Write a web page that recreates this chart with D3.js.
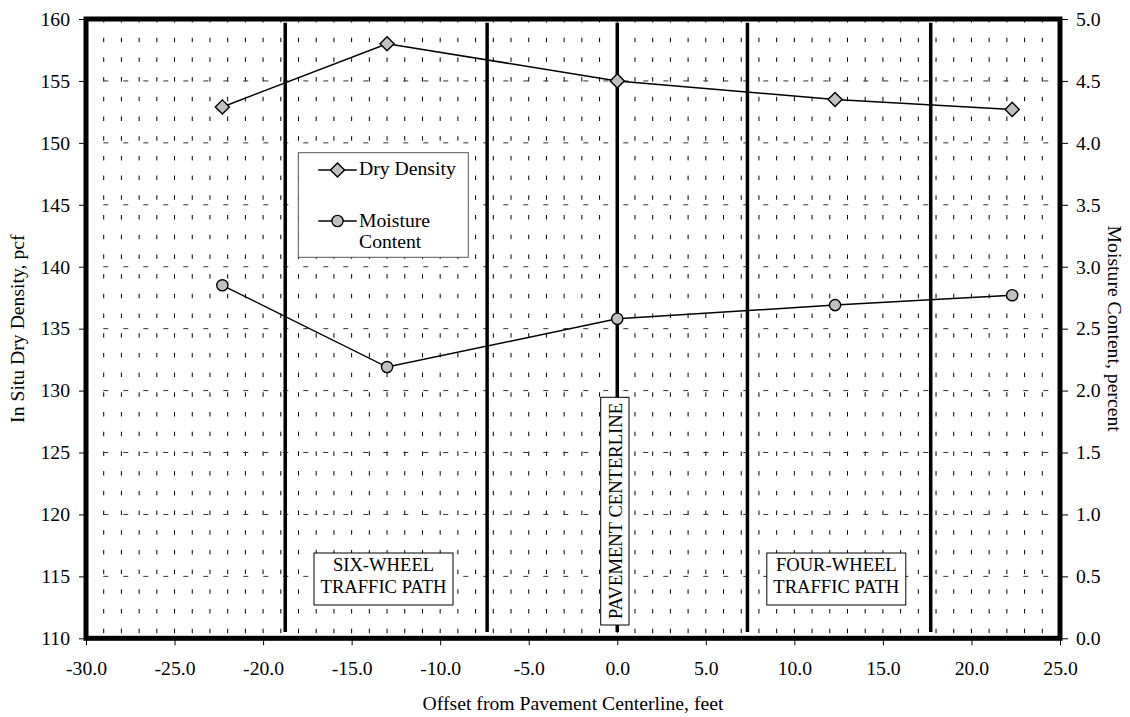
<!DOCTYPE html>
<html><head><meta charset="utf-8">
<script src="https://cdn.jsdelivr.net/npm/d3@7"></script>
<style>
html,body{margin:0;padding:0;background:#fff;}
svg{display:block;font-family:"Liberation Serif","Times New Roman",serif;}
</style></head>
<body>
<svg id="chart" width="1130" height="717"></svg>
<script>
// ---- data ----
const offsets = [-22.3, -13.0, 0.0, 12.3, 22.3];
const dryDensity = [152.9, 158.0, 155.0, 153.5, 152.7];
const moisture = [2.85, 2.19, 2.58, 2.69, 2.77];
const xTicks = [-30, -25, -20, -15, -10, -5, 0, 5, 10, 15, 20, 25];
const yLeftTicks = [110, 115, 120, 125, 130, 135, 140, 145, 150, 155, 160];
const yRightTicks = [0, 0.5, 1, 1.5, 2, 2.5, 3, 3.5, 4, 4.5, 5];
const pathBoundaries = [-18.75, -7.35, 0, 7.35, 17.7];
const boundaryExtent = [110.5, 159.7];
const seriesNames = ["Dry Density", ["Moisture", "Content"]];

// ---- layout ----
const L = 86, R = 1060, T = 19, B = 638.3;
const FS = 19.7, FSA = 18.6;
const svg = d3.select("#chart");
const x = d3.scaleLinear().domain([-30, 25]).range([L, R]);
const yL = d3.scaleLinear().domain([110, 160]).range([B, T]);
const yR = d3.scaleLinear().domain([0, 5]).range([B, T]);
const fmt1 = d => d.toFixed(1);

// ---- grid ----
const grid = svg.append("g");
grid.selectAll("line.v").data(d3.range(-29, 25)).enter().append("line")
  .attr("x1", d => x(d)).attr("x2", d => x(d)).attr("y1", T).attr("y2", B)
  .attr("stroke", "#000").attr("stroke-width", 1)
  .attr("stroke-dasharray", "4.5,15.2").attr("stroke-dashoffset", 1);
grid.selectAll("line.h").data(yLeftTicks.slice(1, -1)).enter().append("line")
  .attr("x1", L).attr("x2", R).attr("y1", d => yL(d)).attr("y2", d => yL(d))
  .attr("stroke", "#333").attr("stroke-width", 1)
  .attr("stroke-dasharray", "5,15").attr("stroke-dashoffset", 2.7);

// ---- thick traffic-path boundary lines ----
svg.append("g").selectAll("line").data(pathBoundaries).enter().append("line")
  .attr("x1", d => x(d)).attr("x2", d => x(d))
  .attr("y1", yL(boundaryExtent[1])).attr("y2", yL(boundaryExtent[0]))
  .attr("stroke", "#000").attr("stroke-width", 3.5);

// ---- annotation boxes ----
function boxText(cx, top, w, h, lines, baselines) {
  const g = svg.append("g");
  g.append("rect").attr("x", cx - w / 2).attr("y", top).attr("width", w).attr("height", h)
    .attr("fill", "#fff").attr("stroke", "#000").attr("stroke-width", 1);
  lines.forEach((t, i) => g.append("text").attr("x", cx).attr("y", baselines[i])
    .attr("text-anchor", "middle").attr("font-size", FSA).text(t));
}
boxText(383.5, 553, 139, 52, ["SIX-WHEEL", "TRAFFIC PATH"], [571, 593]);
boxText(836.3, 553, 139, 52, ["FOUR-WHEEL", "TRAFFIC PATH"], [571, 593]);
// centerline box (vertical)
const cl = svg.append("g");
cl.append("rect").attr("x", 600.7).attr("y", 397.3).attr("width", 28.3).attr("height", 227.7)
  .attr("fill", "#fff").attr("stroke", "#000").attr("stroke-width", 1);
cl.append("text").attr("transform", "translate(621.5,511) rotate(-90)")
  .attr("text-anchor", "middle").attr("font-size", FSA).text("PAVEMENT CENTERLINE");

// ---- legend ----
const lg = svg.append("g");
lg.append("rect").attr("x", 298.3).attr("y", 152.7).attr("width", 170).attr("height", 104.6)
  .attr("fill", "#fff").attr("stroke", "#555").attr("stroke-width", 1);

// ---- series ----
const diamond = d3.symbol().type(d3.symbolSquare).size(100);
const circle = d3.symbol().type(d3.symbolCircle).size(Math.PI * 5.6 * 5.6);
const lineD = d3.line().x((d, i) => x(offsets[i])).y(d => yL(d));
const lineM = d3.line().x((d, i) => x(offsets[i])).y(d => yR(d));
svg.append("path").datum(dryDensity).attr("d", lineD).attr("fill", "none").attr("stroke", "#000").attr("stroke-width", 1.5);
svg.append("path").datum(moisture).attr("d", lineM).attr("fill", "none").attr("stroke", "#000").attr("stroke-width", 1.5);
svg.append("g").selectAll("path").data(dryDensity).enter().append("path")
  .attr("d", diamond).attr("transform", (d, i) => `translate(${x(offsets[i])},${yL(d)}) rotate(45)`)
  .attr("fill", "#c0c0c0").attr("stroke", "#000").attr("stroke-width", 1.4);
svg.append("g").selectAll("path").data(moisture).enter().append("path")
  .attr("d", circle).attr("transform", (d, i) => `translate(${x(offsets[i])},${yR(d)})`)
  .attr("fill", "#c0c0c0").attr("stroke", "#000").attr("stroke-width", 1.4);

// legend entries
[[170, diamond, 45], [221, circle, 0]].forEach(([yy, sym, rot]) => {
  lg.append("line").attr("x1", 318.3).attr("x2", 356.7).attr("y1", yy).attr("y2", yy)
    .attr("stroke", "#000").attr("stroke-width", 1.5);
  lg.append("path").attr("d", sym).attr("transform", `translate(337.5,${yy}) rotate(${rot})`)
    .attr("fill", "#c0c0c0").attr("stroke", "#000").attr("stroke-width", 1.4);
});
lg.append("text").attr("x", 359).attr("y", 175).attr("font-size", FS).text(seriesNames[0]);
lg.append("text").attr("x", 359).attr("y", 227.3).attr("font-size", FS).text(seriesNames[1][0]);
lg.append("text").attr("x", 359).attr("y", 248.3).attr("font-size", FS).text(seriesNames[1][1]);

// ---- axes ----
const axL = svg.append("g").attr("transform", `translate(${L},0)`)
  .call(d3.axisLeft(yL).tickValues(yLeftTicks).tickFormat(d => String(d)).tickSize(7).tickPadding(9));
const axR = svg.append("g").attr("transform", `translate(${R},0)`)
  .call(d3.axisRight(yR).tickValues(yRightTicks).tickFormat(fmt1).tickSize(8).tickPadding(8));
const axB = svg.append("g").attr("transform", `translate(0,${B})`)
  .call(d3.axisBottom(x).tickValues(xTicks).tickFormat(fmt1).tickSize(7).tickPadding(9));
[axL, axR, axB].forEach(a => {
  a.select(".domain").remove();
  a.selectAll("text").attr("font-size", FS).attr("font-family", "Liberation Serif, serif").attr("fill", "#000");
  a.selectAll("line").attr("stroke", "#000");
});
axB.selectAll("text").attr("dy", 0).attr("y", 36.7);

// ---- border ----
svg.append("rect").attr("x", L).attr("y", T).attr("width", R - L).attr("height", B - T)
  .attr("fill", "none").attr("stroke", "#000").attr("stroke-width", 5);

// ---- axis titles ----
svg.append("text").attr("transform", `translate(24,${(T + B) / 2}) rotate(-90)`)
  .attr("text-anchor", "middle").attr("font-size", FS).text("In Situ Dry Density, pcf");
svg.append("text").attr("transform", `translate(1108,${(T + B) / 2}) rotate(90)`)
  .attr("text-anchor", "middle").attr("font-size", FS).text("Moisture Content, percent");
svg.append("text").attr("x", (L + R) / 2).attr("y", 710)
  .attr("text-anchor", "middle").attr("font-size", FS).text("Offset from Pavement Centerline, feet");
</script>
</body></html>
